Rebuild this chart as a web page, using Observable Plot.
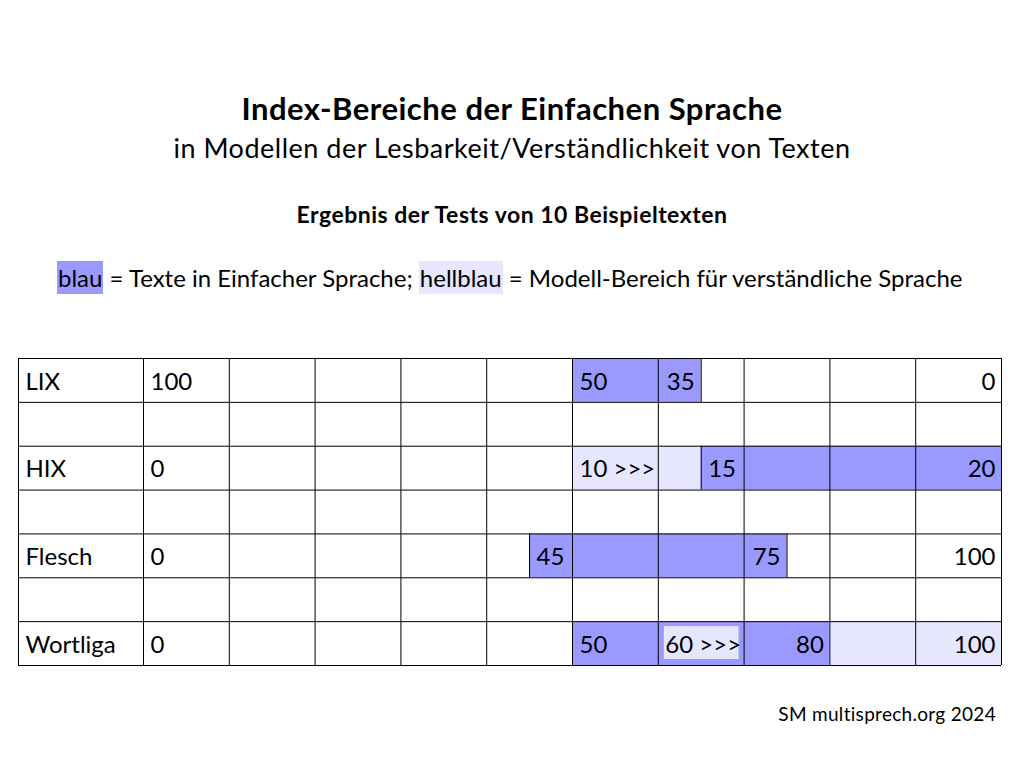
<!DOCTYPE html>
<html><head><meta charset="utf-8">
<script src="https://cdn.jsdelivr.net/npm/d3@7"></script>
<script src="https://cdn.jsdelivr.net/npm/@observablehq/plot@0.6"></script>
<style>
body{margin:0;background:#fff;font-family:Lato,"Noto Sans",sans-serif;color:#000}
#page{position:relative;width:1024px;height:784px;overflow:hidden;background:#fff}
.t{position:absolute;left:0;width:1024px;text-align:center;line-height:normal;white-space:nowrap}
#title{top:89px;font-size:31px;font-weight:700;letter-spacing:0.5px}
#subtitle{top:131px;font-size:27px;letter-spacing:0.5px}
#heading{top:200px;font-size:23px;font-weight:700;letter-spacing:0.5px}
#legend{top:263px;font-size:24px;text-align:left;left:57px;width:auto}
#legend span{padding:2px 1px}
#caption{position:absolute;top:702px;right:28px;font-size:19px;letter-spacing:0.3px;line-height:normal;white-space:nowrap}
#chart{position:absolute;left:0;top:340px}
</style>
</head><body>
<div id="page">
  <div class="t" id="title"></div>
  <div class="t" id="subtitle"></div>
  <div class="t" id="heading"></div>
  <div class="t" id="legend"></div>
  <div id="caption"></div>
  <div id="chart"></div>
</div>
<script>
// ---- texts ----
const titleText = "Index-Bereiche der Einfachen Sprache";
const subtitleText = "in Modellen der Lesbarkeit/Verständlichkeit von Texten";
const headingText = "Ergebnis der Tests von 10 Beispieltexten";
const legendKeys = ["blau", "hellblau"];
const legendDescriptions = [" = Texte in Einfacher Sprache; ", " = Modell-Bereich für verständliche Sprache"];
const captionText = "SM multisprech.org 2024";

// ---- table structure ----
const rows = ["LIX", "", "HIX", "", "Flesch", "", "Wortliga"];
const valueColumns = 10;

// ---- coloured ranges (in column units of the index scale) ----
const segModel = ["LIX", "HIX", "HIX", "Flesch", "Wortliga", "Wortliga"];
const segType  = ["blau", "hellblau", "blau", "blau", "blau", "hellblau"];
const segFrom  = [5, 5, 6.5, 4.5, 5, 8];
const segTo    = [6.5, 6.5, 10, 7.5, 8, 10];

// ---- cell labels ----
const labelModel = ["LIX","LIX","LIX","LIX","HIX","HIX","HIX","HIX","Flesch","Flesch","Flesch","Flesch","Wortliga","Wortliga","Wortliga","Wortliga","Wortliga"];
const labelText  = ["100","50","35","0","0","10 >>>","15","20","0","45","75","100","0","50","60 >>>","80","100"];
const labelCol   = [0,5,6.25,10, 0,5,6.5,10, 0,4.5,7.25,10, 0,5,6,8,10];
const labelAlign = ["start","start","middle","end","start","start","start","end","start","start","middle","end","start","start","start","end","end"];
const highlightedLabels = ["60 >>>"];

// ---- colours ----
const colorBlue = "#9999ff";
const colorLight = "#e6e6ff";

// header texts
document.getElementById("title").textContent = titleText;
document.getElementById("subtitle").textContent = subtitleText;
document.getElementById("heading").textContent = headingText;
document.getElementById("caption").textContent = captionText;
const leg = document.getElementById("legend");
legendKeys.forEach((k, i) => {
  const s = document.createElement("span");
  s.textContent = k;
  s.style.background = i === 0 ? colorBlue : colorLight;
  leg.appendChild(s);
  leg.appendChild(document.createTextNode(legendDescriptions[i]));
});

// derived tables
const rowIndex = m => rows.indexOf(m);
const segments = segModel.map((m, i) => ({row: rowIndex(m), type: segType[i], from: segFrom[i], to: segTo[i]}));
const labels = labelModel.map((m, i) => ({row: rowIndex(m), text: labelText[i], col: labelCol[i], align: labelAlign[i]}));
const labelWidthUnits = 1.457;
const verticals = [-labelWidthUnits, ...d3.range(0, valueColumns + 1)];
const horizontals = d3.range(0, rows.length + 1);
const splits = [];
segments.forEach(s => {
  [s.from, s.to].forEach(e => { if (!Number.isInteger(e)) splits.push({row: s.row, at: e}); });
});
const uniqSplits = Array.from(new Map(splits.map(d => [d.row + ":" + d.at, d])).values());
const rowNames = rows.map((r, i) => ({row: i, text: r})).filter(d => d.text);
const highlights = labels.filter(d => highlightedLabels.includes(d.text));

const textOpts = {y: d => d.row + 0.5, text: "text", dy: 1.5, fontSize: 24, fill: "#000"};

const plot = Plot.plot({
  width: 1024,
  height: 340,
  marginTop: 18,
  marginBottom: 15,
  marginLeft: 18,
  marginRight: 23,
  style: {fontFamily: "Lato, 'Noto Sans', sans-serif", background: "white"},
  x: {domain: [-labelWidthUnits, valueColumns], axis: null},
  y: {domain: [0, rows.length], reverse: true, axis: null},
  color: {domain: ["blau", "hellblau"], range: [colorBlue, colorLight]},
  marks: [
    Plot.rect(segments, {x1: "from", x2: "to", y1: "row", y2: d => d.row + 1, fill: "type"}),
    Plot.rect(highlights, {x1: "col", x2: d => d.col + 1, y1: "row", y2: d => d.row + 1, fill: colorLight,
      insetLeft: 6, insetRight: 5, insetTop: 5, insetBottom: 6}),
    Plot.ruleX(verticals, {x: d => d, y1: 0, y2: rows.length, stroke: "#000", strokeWidth: 1}),
    Plot.ruleX(uniqSplits, {x: "at", y1: "row", y2: d => d.row + 1, stroke: "#000", strokeWidth: 1}),
    Plot.ruleY(horizontals, {y: d => d, x1: -labelWidthUnits, x2: valueColumns, stroke: "#000", strokeWidth: 1}),
    Plot.text(rowNames, {...textOpts, x: -labelWidthUnits, textAnchor: "start", dx: 7}),
    Plot.text(labels.filter(d => d.align === "start"), {...textOpts, x: "col", textAnchor: "start", dx: 7}),
    Plot.text(labels.filter(d => d.align === "middle"), {...textOpts, x: "col", textAnchor: "middle", dx: 1}),
    Plot.text(labels.filter(d => d.align === "end"), {...textOpts, x: "col", textAnchor: "end", dx: -6})
  ]
});
document.getElementById("chart").appendChild(plot);
</script>
</body></html>
